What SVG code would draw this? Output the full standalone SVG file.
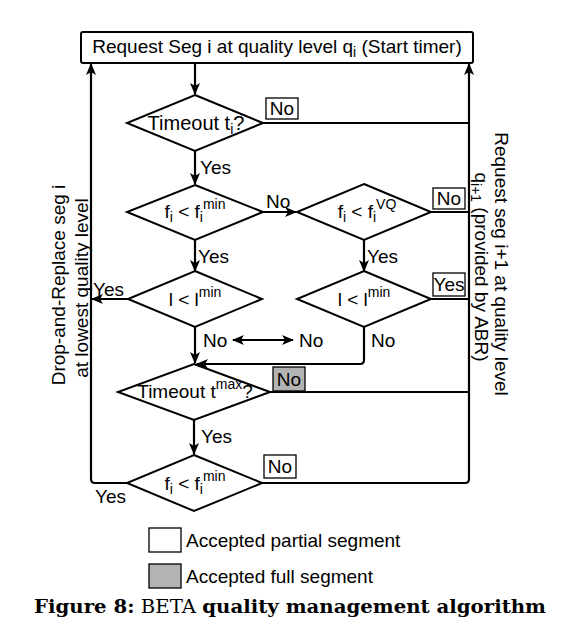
<svg xmlns="http://www.w3.org/2000/svg" width="586" height="639" viewBox="0 0 586 639">
<style>
text{font-family:"Liberation Sans",Arial,sans-serif;font-size:19px;fill:#000}
.c{text-anchor:middle}
.n{fill:#fff;stroke:#000;stroke-width:2}
.lb{fill:#fff;stroke:#000;stroke-width:1.3}
.g{fill:#b3b3b3}
.e{fill:none;stroke:#000;stroke-width:2.2}
.s{font-size:14px}
.big{font-size:20px}
.cap{font-family:"DejaVu Serif","Liberation Serif",serif;font-size:19px}
</style>
<defs>
<marker id="a" markerUnits="userSpaceOnUse" markerWidth="12" markerHeight="10" refX="11" refY="5" orient="auto-start-reverse" viewBox="0 0 12 10">
<path d="M0,0 L12,5 L0,10 L3,5 z" fill="#000"/>
</marker>
</defs>
<rect width="586" height="639" fill="#fff"/>
<g id="connectors">
<path class="e" d="M195,63 V94" marker-end="url(#a)"/>
<path class="e" d="M263,123 H469"/>
<path class="e" d="M195,151 V184" marker-end="url(#a)"/>
<path class="e" d="M263,212 H296" marker-end="url(#a)"/>
<path class="e" d="M431,212 H469"/>
<path class="e" d="M195,240 V271" marker-end="url(#a)"/>
<path class="e" d="M364,240 V271" marker-end="url(#a)"/>
<path class="e" d="M128,299 H92" marker-end="url(#a)"/>
<path class="e" d="M431,299 H469"/>
<path class="e" d="M195,327 V363" marker-end="url(#a)"/>
<path class="e" d="M364,327 V360 Q364,364 360,364 H197" marker-end="url(#a)"/>
<path class="e" d="M233,340 H293" marker-start="url(#a)" marker-end="url(#a)"/>
<path class="e" d="M270,392 H469"/>
<path class="e" d="M194,420 V454" marker-end="url(#a)"/>
<path class="e" d="M262,483 H465 Q469,483 469,479 V64" marker-end="url(#a)"/>
<path class="e" d="M127,483 H95 Q91,483 91,479 V64" marker-end="url(#a)"/>
</g>
<g id="start">
<rect class="n" x="81" y="32" width="392" height="31" rx="2"/>
<text class="c" x="277" y="53">Request Seg i at quality level q<tspan class="s" dy="4">i</tspan><tspan dy="-4"> (Start timer)</tspan></text>
</g>
<g id="d1">
<polygon class="n" points="195,95 263,123 195,151 127,123"/>
<text class="c big" x="196" y="130">Timeout t<tspan class="s" dy="4">i</tspan><tspan dy="-4">?</tspan></text>
</g>
<g id="d2">
<polygon class="n" points="195,185 263,212 195,240 127,212"/>
<text class="c" x="195" y="218">f<tspan class="s" dy="4">i</tspan><tspan dy="-4"> &lt; f</tspan><tspan class="s" dy="4">i</tspan><tspan class="s" dy="-13">min</tspan></text>
</g>
<g id="d3">
<polygon class="n" points="364,184 431,212 364,240 297,212"/>
<text class="c" x="367" y="218">f<tspan class="s" dy="4">i</tspan><tspan dy="-4"> &lt; f</tspan><tspan class="s" dy="4">i</tspan><tspan class="s" dy="-13">VQ</tspan></text>
</g>
<g id="d4">
<polygon class="n" points="195,271 262,299 195,327 128,299"/>
<text class="c" x="195" y="306">l &lt; l<tspan class="s" dy="-9">min</tspan></text>
</g>
<g id="d5">
<polygon class="n" points="364,271 431,299 364,327 297,299"/>
<text class="c" x="364" y="306">l &lt; l<tspan class="s" dy="-9">min</tspan></text>
</g>
<g id="d6">
<polygon class="n" points="194,364 270,392 194,420 118,392"/>
<text class="c" x="195" y="398">Timeout t<tspan class="s" dy="-9">max</tspan><tspan dy="9">?</tspan></text>
</g>
<g id="d7">
<polygon class="n" points="194,455 262,483 194,511 127,483"/>
<text class="c" x="195" y="490">f<tspan class="s" dy="4">i</tspan><tspan dy="-4"> &lt; f</tspan><tspan class="s" dy="4">i</tspan><tspan class="s" dy="-13">min</tspan></text>
</g>
<g id="labels">
<rect class="lb" x="266" y="98" width="32" height="21"/>
<text class="c" x="282" y="115">No</text>
<text x="200" y="174">Yes</text>
<text x="266" y="208">No</text>
<rect class="lb" x="433" y="188" width="32" height="21"/>
<text class="c" x="449" y="205">No</text>
<text x="198" y="263">Yes</text>
<text x="367" y="263">Yes</text>
<text x="93" y="296">Yes</text>
<rect class="lb" x="433" y="273" width="32" height="23"/>
<text class="c" x="449" y="291">Yes</text>
<text x="203" y="347">No</text>
<text x="299" y="347">No</text>
<text x="371" y="347">No</text>
<rect class="lb g" x="273" y="367" width="32" height="24"/>
<text class="c" x="289" y="386">No</text>
<text x="201" y="443">Yes</text>
<rect class="lb" x="264" y="455" width="32" height="23"/>
<text class="c" x="280" y="473">No</text>
<text x="95" y="503">Yes</text>
</g>
<g id="side-left">
<text class="c" transform="translate(65,285) rotate(-90)">Drop-and-Replace seg i</text>
<text class="c" transform="translate(88,288) rotate(-90)">at lowest quality level</text>
</g>
<g id="side-right">
<text class="c" transform="translate(495,264) rotate(90)">Request seg i+1 at quality level</text>
<text class="c" transform="translate(475,267) rotate(90)">q<tspan class="s" dy="4">i+1</tspan><tspan dy="-4"> (provided by ABR)</tspan></text>
</g>
<g id="legend">
<rect class="lb" x="149" y="528" width="32" height="24"/>
<text x="186" y="547">Accepted partial segment</text>
<rect class="lb g" x="149" y="564" width="32" height="24"/>
<text x="186" y="583">Accepted full segment</text>
</g>
<text class="cap" x="34" y="613" textLength="512" lengthAdjust="spacingAndGlyphs"><tspan font-weight="bold">Figure 8:</tspan> BETA <tspan font-weight="bold">quality management algorithm</tspan></text>
</svg>
